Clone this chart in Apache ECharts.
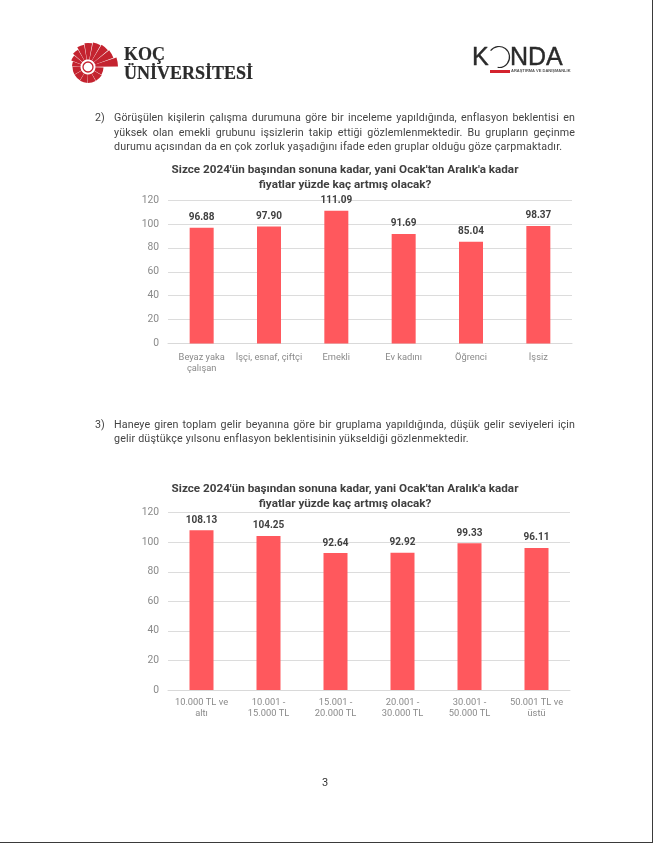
<!DOCTYPE html>
<html><head><meta charset="utf-8">
<style>
html,body{margin:0;padding:0;background:#fff;width:653px;height:843px;overflow:hidden}
#c{position:absolute;left:0;top:0;width:653px;height:843px}
.l{position:absolute;left:114px;width:461px;font:10.7px/14px Roboto,sans-serif;color:#444;text-align:justify;text-align-last:justify;white-space:nowrap;letter-spacing:.1px}
.l.e{text-align-last:left}
.n{position:absolute;left:95px;font:10.7px/14px Roboto,sans-serif;color:#444}
.edge{position:absolute;background:#3a3a3a}
</style></head><body>
<div id="c"></div>
<div class="edge" style="left:652px;top:0;width:1px;height:843px"></div>
<div class="edge" style="left:0;top:842px;width:653px;height:1px"></div>
<div class="n" style="top:111px">2)</div>
<div class="l" style="top:111px">Görüşülen kişilerin çalışma durumuna göre bir inceleme yapıldığında, enflasyon beklentisi en</div>
<div class="l" style="top:126px">yüksek olan emekli grubunu işsizlerin takip ettiği gözlemlenmektedir. Bu grupların geçinme</div>
<div class="l e" style="top:140px;letter-spacing:.17px">durumu açısından da en çok zorluk yaşadığını ifade eden gruplar olduğu göze çarpmaktadır.</div>
<div class="n" style="top:418px">3)</div>
<div class="l" style="top:418px">Haneye giren toplam gelir beyanına göre bir gruplama yapıldığında,  düşük gelir seviyeleri için</div>
<div class="l e" style="top:432px;letter-spacing:.17px">gelir düştükçe yılsonu enflasyon beklentisinin yükseldiği gözlenmektedir.</div>
<script src="https://cdn.jsdelivr.net/npm/echarts@6/dist/echarts.min.js"></script>
<script>
const chartTitle = "Sizce 2024'ün başından sonuna kadar, yani Ocak'tan Aralık'a kadar\nfiyatlar yüzde kaç artmış olacak?";
const workCategories = ["Beyaz yaka\nçalışan","İşçi, esnaf, çiftçi","Emekli","Ev kadını","Öğrenci","İşsiz"];
const workValues = [96.88,97.90,111.09,91.69,85.04,98.37];
const incomeCategories = ["10.000 TL ve\naltı","10.001 -\n15.000 TL","15.001 -\n20.000 TL","20.001 -\n30.000 TL","30.001 -\n50.000 TL","50.001 TL ve\nüstü"];
const incomeValues = [108.13,104.25,92.64,92.92,99.33,96.11];
const pageNumber = "3";
const RED="#ff585d", RAY="#c4232f", FONT="Roboto, sans-serif";

function xAxis(gridIndex,data,margin){return {type:'category',gridIndex,data,
  axisLine:{lineStyle:{color:'#d9d9d9',width:1}},axisTick:{show:false},
  axisLabel:{color:'#8a8a8a',fontSize:9.3,fontFamily:FONT,lineHeight:11,margin,interval:0}};}
function yAxis(gridIndex){return {type:'value',gridIndex,min:0,max:120,interval:20,
  axisLine:{show:false},axisTick:{show:false},splitLine:{lineStyle:{color:'#dcdcdc',width:1}},
  axisLabel:{color:'#8a8a8a',fontSize:10.3,fontFamily:FONT,margin:9}};}
function bars(i,data){return {type:'bar',xAxisIndex:i,yAxisIndex:i,data,barWidth:24,
  itemStyle:{color:RED},
  label:{show:true,position:'top',distance:5,color:'#404040',fontSize:10,fontWeight:'bold',fontFamily:FONT,
    formatter:p=>p.value.toFixed(2)}};}
function title(top){return {text:chartTitle,left:340,top,textAlign:'center',
  textStyle:{color:'#404040',fontSize:11.7,fontWeight:'bold',fontFamily:FONT,lineHeight:14.5}};}

// Koç shell logo: rays growing around the spiral's eye
const CX=88,CY=67,deg=Math.PI/180;
const rays=[[0,30,15.5],[30,60,16],[60,90,16],[90,120,16],[120,150,15.5],[150,180,15.5],[180,200,16],[200,220,18],[220,240,20],[240,260,22.5],[260,280,24],[280,300,25],[300,320,26],[320,340,27],[340,359,30]];
const logo=[];
rays.forEach(([a,b,r])=>logo.push({type:'sector',shape:{cx:CX,cy:CY,r,r0:7.5,startAngle:(a+1.5)*deg,endAngle:b*deg},style:{fill:RAY}}));
logo.push({type:'circle',shape:{cx:CX,cy:CY,r:5},style:{fill:'none',stroke:RAY,lineWidth:1.3}});
const gfx=[...logo,
 {type:'text',style:{text:'KOÇ',x:124,y:46,fill:'#2b2b2b',font:'bold 18px "Liberation Serif"',stroke:'#2b2b2b',lineWidth:.2}},
 {type:'text',style:{text:'ÜNİVERSİTESİ',x:124,y:65,fill:'#2b2b2b',font:'bold 18px "Liberation Serif"',stroke:'#2b2b2b',lineWidth:.2}},
 {type:'text',style:{text:'K',x:472,y:46,fill:'#2a2a2a',font:'25px "Liberation Sans"',stroke:'#2a2a2a',lineWidth:.4}},
 {type:'arc',shape:{cx:499,cy:57,r:10.5,startAngle:-2.5,endAngle:1.7},style:{fill:'none',stroke:'#2a2a2a',lineWidth:1.2}},
 {type:'text',style:{text:'NDA',x:510,y:46,fill:'#2a2a2a',font:'25px "Liberation Sans"',stroke:'#2a2a2a',lineWidth:.4}},
 {type:'rect',shape:{x:490,y:70,width:20,height:3},style:{fill:'#d4232f'}},
 {type:'text',style:{text:'ARAŞTIRMA VE DANIŞMANLIK',x:511,y:69,fill:'#555',font:'bold 4px "Liberation Sans"'}},
 {type:'text',style:{text:pageNumber,x:325,y:778,textAlign:'center',fill:'#333',font:'11px '+FONT}}
];
const chart=echarts.init(document.getElementById('c'),null,{renderer:'canvas'});
chart.setOption({animation:false,backgroundColor:'#fff',
 title:[title(158),title(477)],
 grid:[{left:168,width:404,top:200,height:143.6},{left:168,width:402,top:512.7,height:177.3}],
 xAxis:[xAxis(0,workCategories,9),xAxis(1,incomeCategories,7)],
 yAxis:[yAxis(0),yAxis(1)],
 series:[bars(0,workValues),bars(1,incomeValues)],
 graphic:gfx});
</script></body></html>
